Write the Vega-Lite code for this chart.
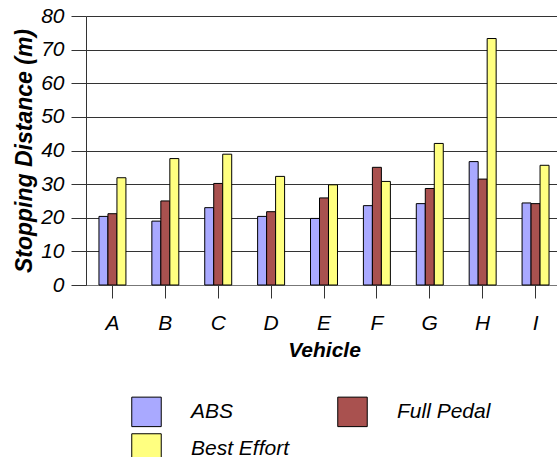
{
  "$schema": "https://vega.github.io/schema/vega-lite/v6.json",
  "autosize": {"type": "none"},
  "padding": {"left": 86, "top": 16, "right": 0, "bottom": 172},
  "width": 476,
  "height": 269,
  "background": "white",
  "config": {
    "font": "Liberation Sans",
    "view": {"stroke": null}
  },
  "data": {
    "values": [
      {"vehicle": "A", "method": "ABS", "distance": 20.4},
      {"vehicle": "A", "method": "Full Pedal", "distance": 21.2},
      {"vehicle": "A", "method": "Best Effort", "distance": 31.9},
      {"vehicle": "B", "method": "ABS", "distance": 19.0},
      {"vehicle": "B", "method": "Full Pedal", "distance": 25.0},
      {"vehicle": "B", "method": "Best Effort", "distance": 37.6},
      {"vehicle": "C", "method": "ABS", "distance": 23.0},
      {"vehicle": "C", "method": "Full Pedal", "distance": 30.2},
      {"vehicle": "C", "method": "Best Effort", "distance": 38.9},
      {"vehicle": "D", "method": "ABS", "distance": 20.4},
      {"vehicle": "D", "method": "Full Pedal", "distance": 21.8},
      {"vehicle": "D", "method": "Best Effort", "distance": 32.3},
      {"vehicle": "E", "method": "ABS", "distance": 19.8},
      {"vehicle": "E", "method": "Full Pedal", "distance": 25.9},
      {"vehicle": "E", "method": "Best Effort", "distance": 29.8},
      {"vehicle": "F", "method": "ABS", "distance": 23.6},
      {"vehicle": "F", "method": "Full Pedal", "distance": 35.0},
      {"vehicle": "F", "method": "Best Effort", "distance": 30.8},
      {"vehicle": "G", "method": "ABS", "distance": 24.2},
      {"vehicle": "G", "method": "Full Pedal", "distance": 28.7},
      {"vehicle": "G", "method": "Best Effort", "distance": 42.1},
      {"vehicle": "H", "method": "ABS", "distance": 36.7},
      {"vehicle": "H", "method": "Full Pedal", "distance": 31.5},
      {"vehicle": "H", "method": "Best Effort", "distance": 73.3},
      {"vehicle": "I", "method": "ABS", "distance": 24.4},
      {"vehicle": "I", "method": "Full Pedal", "distance": 24.2},
      {"vehicle": "I", "method": "Best Effort", "distance": 35.6}
    ]
  },
  "mark": {"type": "bar", "stroke": "black", "strokeWidth": 1, "opacity": 1},
  "encoding": {
    "x": {
      "field": "vehicle",
      "type": "nominal",
      "scale": {"paddingInner": 0.49, "paddingOuter": 0.245},
      "axis": {
        "title": "Vehicle",
        "titleFontSize": 21,
        "titleFontStyle": "italic",
        "titleFontWeight": "bold",
        "titleColor": "black",
        "titlePadding": 6,
        "labelAngle": 0,
        "labelFontSize": 21,
        "labelFontStyle": "italic",
        "labelColor": "black",
        "labelPadding": 14,
        "tickSize": 13,
        "tickColor": "#333",
        "domainColor": "#777",
        "grid": false
      }
    },
    "xOffset": {"field": "method", "type": "nominal", "scale": {"domain": ["ABS", "Full Pedal", "Best Effort"]}},
    "y": {
      "field": "distance",
      "type": "quantitative",
      "scale": {"domain": [0, 80]},
      "axis": {
        "title": "Stopping Distance (m)",
        "titleFontSize": 23,
        "titleFontStyle": "italic",
        "titleFontWeight": "bold",
        "titleColor": "black",
        "titlePadding": 4,
        "values": [0, 10, 20, 30, 40, 50, 60, 70, 80],
        "labelFontSize": 21,
        "labelFontStyle": "italic",
        "labelColor": "black",
        "labelPadding": 7,
        "tickSize": 15,
        "tickColor": "#333",
        "domainColor": "#333",
        "grid": true,
        "gridColor": "#333",
        "gridOpacity": 1
      }
    },
    "color": {
      "field": "method",
      "type": "nominal",
      "scale": {"domain": ["ABS", "Full Pedal", "Best Effort"], "range": ["#A9A9FF", "#A9514F", "#FFFF80"]},
      "legend": {
        "title": null,
        "orient": "none",
        "legendX": 45,
        "legendY": 380,
        "columns": 2,
        "values": ["ABS", "Best Effort", "Full Pedal"],
        "symbolType": "square",
        "symbolSize": 870,
        "symbolStrokeColor": "black",
        "symbolStrokeWidth": 1,
        "symbolOpacity": 1,
        "labelFontSize": 21,
        "labelFontStyle": "italic",
        "labelColor": "black",
        "labelOffset": 29,
        "rowPadding": 2,
        "columnPadding": 45
      }
    }
  }
}
